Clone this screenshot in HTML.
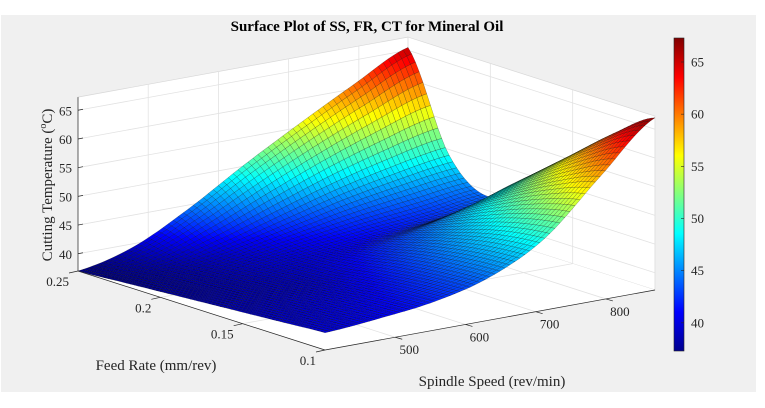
<!DOCTYPE html>
<html><head><meta charset="utf-8">
<style>
html,body{margin:0;padding:0;background:#fff;}
#wrap{position:relative;width:765px;height:408px;overflow:hidden;background:#fff;}
svg text{font-family:"Liberation Serif",serif;fill:#262626;}
</style></head>
<body>
<div id="wrap">
<svg id="chart" width="765" height="408" viewBox="0 0 765 408" xmlns="http://www.w3.org/2000/svg">
  <rect x="1" y="15" width="755" height="377" fill="#f0f0f0"/>
  <text x="367" y="31" text-anchor="middle" font-size="15" font-weight="bold" style="fill:#000">Surface Plot of SS, FR, CT for Mineral Oil</text>
  <g id="walls"></g>
  <g id="grid"></g>
  <g id="surface"></g>
  <g id="axes"></g>
  <text transform="translate(52,185) rotate(-90)" text-anchor="middle" font-size="15">Cutting Temperature (<tspan font-size="10" dy="-6">o</tspan><tspan dy="6">C)</tspan></text>
  <text x="156" y="370" text-anchor="middle" font-size="15">Feed Rate (mm/rev)</text>
  <text x="492" y="386" text-anchor="middle" font-size="15">Spindle Speed (rev/min)</text>
  <defs><linearGradient id="jet" x1="0" y1="1" x2="0" y2="0">
    <stop offset="0" stop-color="#00008f"/><stop offset="0.125" stop-color="#0000ff"/>
    <stop offset="0.375" stop-color="#00ffff"/><stop offset="0.625" stop-color="#ffff00"/>
    <stop offset="0.875" stop-color="#ff0000"/><stop offset="1" stop-color="#800000"/>
  </linearGradient></defs>
  <rect x="674" y="38" width="10" height="313" fill="url(#jet)" stroke="#262626" stroke-width="0.6"/>
  <g id="cbticks"></g>
</svg>
</div>
<script>
// ---- data ----
const ssValues = [400, 478, 557, 635, 713, 792, 870];
const frValues = [0.10, 0.125, 0.15, 0.175, 0.20, 0.225, 0.25];
const ctRow010 = [40, 40.8, 42, 44.5, 49.5, 58.5, 67];
const ctRow0125 = [39.5, 40.2, 41.5, 44, 48.5, 55.5, 62];
const ctRow015 = [39, 39.5, 40.5, 43, 46.5, 51.5, 56];
const ctRow0175 = [38.5, 38.8, 39.5, 41.5, 44, 47, 50];
const ctRow020 = [38, 38.5, 39.5, 40.5, 41.5, 42.5, 44];
const ctRow0225 = [37.5, 38.5, 40.5, 43, 45.5, 47.5, 49];
const ctRow025 = [37, 39.4, 44.3, 50.1, 55.5, 60.7, 65.5];
const ctGrid = [ctRow010, ctRow0125, ctRow015, ctRow0175, ctRow020, ctRow0225, ctRow025];
const ssTicks = [500, 600, 700, 800];
const frTicks = [0.1, 0.15, 0.2, 0.25];
const frTickLabels = ["0.1", "0.15", "0.2", "0.25"];
const zTicks = [40, 45, 50, 55, 60, 65];
const cbTicks = [40, 45, 50, 55, 60, 65];

// ---- axes ----
const SS0 = 400, SS1 = 870, FR0 = 0.1, FR1 = 0.25, Z0 = 37, Z1 = 67.3;
const CMIN = 37.3, CMAX = 67.3;
function proj(ss, fr, z) {
  const s = (ss - SS0) / (SS1 - SS0), t = (fr - FR0) / (FR1 - FR0);
  return [325 + 330 * s - 247 * t, 350 - 60 * s - 79 * t - (z - Z0) * 5.74];
}
function cbY(v) { return 351 - (v - CMIN) / (CMAX - CMIN) * 313; }
function jet(v) {
  let x = (v - CMIN) / (CMAX - CMIN); x = Math.max(0, Math.min(1, x));
  const c = f => Math.round(255 * Math.max(0, Math.min(1, f)));
  const r = c(1.5 - Math.abs(4 * x - 3)), g = c(1.5 - Math.abs(4 * x - 2)), b = c(1.5 - Math.abs(4 * x - 1));
  return `rgb(${r},${g},${b})`;
}
const NS = "http://www.w3.org/2000/svg";
function mk(tag, attrs, parent) {
  const e = document.createElementNS(NS, tag);
  for (const k in attrs) e.setAttribute(k, attrs[k]);
  parent.appendChild(e); return e;
}
const P = a => a.map(p => p[0].toFixed(1) + "," + p[1].toFixed(1)).join(" ");

// walls
const walls = document.getElementById("walls");
const w1 = mk("polygon", {points: P([proj(SS0,FR1,Z0), proj(SS1,FR1,Z0), proj(SS1,FR1,Z1), proj(SS0,FR1,Z1)]), fill: "#fff", stroke: "#d8d8d8", "stroke-width": 0.7}, walls);


const w2 = mk("polygon", {points: P([proj(SS1,FR0,Z0), proj(SS1,FR1,Z0), proj(SS1,FR1,Z1), proj(SS1,FR0,Z1)]), fill: "#fff", stroke: "#d8d8d8", "stroke-width": 0.7}, walls);


const fl = mk("polygon", {points: P([proj(SS0,FR0,Z0), proj(SS1,FR0,Z0), proj(SS1,FR1,Z0), proj(SS0,FR1,Z0)]), fill: "#fff"}, walls);



// grid
const grid = document.getElementById("grid");
function gl(a, b) {
  const l = mk("line", {x1: a[0], y1: a[1], x2: b[0], y2: b[1], stroke: "#e2e2e2", "stroke-width": 0.8}, grid);
  
  
}
zTicks.forEach(z => { gl(proj(SS0,FR1,z), proj(SS1,FR1,z)); gl(proj(SS1,FR1,z), proj(SS1,FR0,z)); });
ssTicks.forEach(s => { gl(proj(s,FR1,Z0), proj(s,FR1,Z1)); gl(proj(s,FR0,Z0), proj(s,FR1,Z0)); });
frTicks.forEach(f => { gl(proj(SS1,f,Z0), proj(SS1,f,Z1)); gl(proj(SS0,f,Z0), proj(SS1,f,Z0)); });

// surface: smooth (Catmull-Rom) rendering between the grid values
const surf = document.getElementById("surface");
const N = 11, quads = [];
const nI = ssValues.length, nJ = frValues.length;
function G(j, i) { j = Math.max(0, Math.min(nJ-1, j)); i = Math.max(0, Math.min(nI-1, i)); return ctGrid[j][i]; }
function cr(p0, p1, p2, p3, t) {
  return 0.5 * ((2*p1) + (-p0 + p2)*t + (2*p0 - 5*p1 + 4*p2 - p3)*t*t + (-p0 + 3*p1 - 3*p2 + p3)*t*t*t);
}
function zAt(i, j, u, v) {
  const rows = [];
  for (let k = -1; k <= 2; k++) rows.push(cr(G(j+k,i-1), G(j+k,i), G(j+k,i+1), G(j+k,i+2), u));
  return cr(rows[0], rows[1], rows[2], rows[3], v);
}
for (let j = 0; j < nJ - 1; j++) {
  for (let i = 0; i < nI - 1; i++) {
    for (let q = 0; q < N; q++) for (let p = 0; p < N; p++) {
      const u0 = p/N, u1 = (p+1)/N, v0 = q/N, v1 = (q+1)/N;
      const ssA = ssValues[i] + (ssValues[i+1]-ssValues[i])*u0, ssB = ssValues[i] + (ssValues[i+1]-ssValues[i])*u1;
      const frA = frValues[j] + (frValues[j+1]-frValues[j])*v0, frB = frValues[j] + (frValues[j+1]-frValues[j])*v1;
      const z00 = zAt(i,j,u0,v0), z10 = zAt(i,j,u1,v0), z11 = zAt(i,j,u1,v1), z01 = zAt(i,j,u0,v1);
      const pts = [proj(ssA,frA,z00), proj(ssB,frA,z10), proj(ssB,frB,z11), proj(ssA,frB,z01)];
      const depth = proj((ssA+ssB)/2, (frA+frB)/2, Z0)[1];
      quads.push({pts, z: (z00+z10+z11+z01)/4, depth});
    }
  }
}
quads.sort((a, b) => a.depth - b.depth);
quads.forEach(qd => {
  const e = mk("polygon", {points: P(qd.pts), fill: jet(qd.z), stroke: "rgba(0,0,0,0.55)", "stroke-width": 0.35}, surf);
  
  
});

// axes lines, ticks, labels
const axes = document.getElementById("axes");
function al(a, b, name) {
  const l = mk("line", {x1: a[0], y1: a[1], x2: b[0], y2: b[1], stroke: "#262626", "stroke-width": 0.7}, axes);
  
  
}
al(proj(SS0,FR1,Z0), proj(SS0,FR0,Z0), 'feed-rate-axis');
al(proj(SS0,FR0,Z0), proj(SS1,FR0,Z0), 'spindle-speed-axis');
al(proj(SS0,FR1,Z0), proj(SS0,FR1,Z1), 'z-axis');
function txt(x, y, s, anchor, name) {
  const t = mk("text", {x, y, "text-anchor": anchor, "font-size": 13}, axes);
  t.textContent = s;
  
  
}
zTicks.forEach(z => {
  const p = proj(SS0,FR1,z);
  al(p, [p[0]+5, p[1]-1], 'z-tick');
  txt(p[0]-6, p[1]+5, String(z), "end", 'z-tick-label');
});
frTicks.forEach((f, k) => {
  const p = proj(SS0,f,Z0);
  al(p, [p[0]-9, p[1]+2], 'feed-rate-tick');
  txt(p[0]-9, p[1]+15, frTickLabels[k], "end", 'feed-rate-tick-label');
});
ssTicks.forEach(s => {
  const p = proj(s,FR0,Z0);
  al(p, [p[0]+7, p[1]+2], 'spindle-speed-tick');
  txt(p[0]+14, p[1]+17, String(s), "middle", 'spindle-speed-tick-label');
});

// colorbar ticks
const cb = document.getElementById("cbticks");
cbTicks.forEach(v => {
  const y = cbY(v);
  const l = mk("line", {x1: 684, y1: y, x2: 681, y2: y, stroke: "#262626", "stroke-width": 0.6}, cb);
  
  
  const t = mk("text", {x: 691, y: y + 4.5, "font-size": 13}, cb);
  t.textContent = String(v);
  
  
});
</script>
</body></html>
